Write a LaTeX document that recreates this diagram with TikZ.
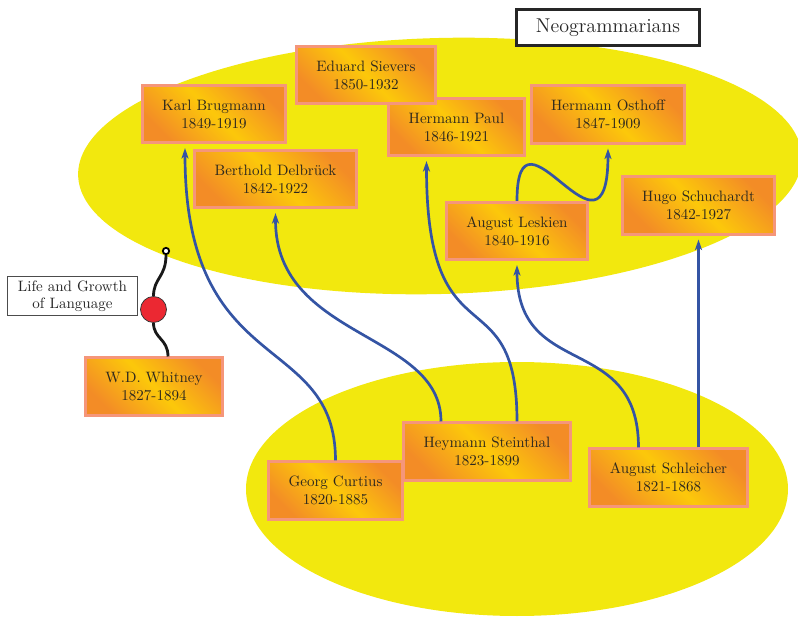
\documentclass[tikz,border=0pt]{standalone}
\usetikzlibrary{calc,arrows.meta,shadings}

\definecolor{fieldyellow}{RGB}{242,232,14}
\definecolor{boxorange}{RGB}{243,140,38}
\definecolor{boxyellow}{RGB}{252,200,10}
\definecolor{boxrim}{RGB}{245,150,122}
\definecolor{linkblue}{RGB}{52,84,164}
\definecolor{dotred}{RGB}{235,40,50}
\definecolor{inktext}{RGB}{45,40,30}

\begin{document}
\begin{tikzpicture}[
  x=0.025cm, y=-0.025cm,
  person/.style={draw=boxrim, line width=2pt,
    left color=boxorange, right color=boxorange, middle color=boxyellow,
    shading angle=-45,
    minimum height=40.7pt, inner sep=0pt, align=center,
    text=inktext, font=\fontsize{10.7}{12.8}\selectfont},
  titlebox/.style={draw=black!85, line width=2pt, fill=white,
    minimum width=130.3pt, minimum height=25.7pt, inner sep=0pt,
    font=\fontsize{14.2}{16}\selectfont, text=black!85},
  notebox/.style={draw=black!70, line width=0.6pt, fill=white,
    minimum width=92.5pt, minimum height=27.7pt, inner sep=0pt, align=center,
    font=\fontsize{10.7}{12.2}\selectfont, text=black!85},
  link/.style={draw=linkblue, line width=1.9pt,
    -{Stealth[length=7.5pt,width=5pt,inset=2pt]}},
  wire/.style={draw=black!90, line width=2pt},
]
\useasboundingbox (0,0) rectangle (798,617);

% the two yellow fields
\fill[fieldyellow, rotate around={1.5:(440,166)}] (440,166) ellipse [x radius=362, y radius=128];
\fill[fieldyellow] (517,489) ellipse [x radius=271, y radius=127];

% heading
\node[titlebox] (title) at (608,27.5) {Neogrammarians};

% scholars of the upper field
\node[person, minimum width=96.9pt]  (paul)    at (456.5,127)   {Hermann Paul\\1846-1921};
\node[person, minimum width=99.0pt]  (sievers) at (366,75)      {Eduard Sievers\\1850-1932};
\node[person, minimum width=101.9pt] (brug)    at (214,114)     {Karl Brugmann\\1849-1919};
\node[person, minimum width=109.0pt] (osthoff) at (608,114.5)   {Hermann Osthoff\\1847-1909};
\node[person, minimum width=115.4pt] (delb)    at (275.5,179)   {Berthold Delbrück\\1842-1922};
\node[person, minimum width=108.3pt] (schuch)  at (698.5,205.5) {Hugo Schuchardt\\1842-1927};
\node[person, minimum width=100.1pt] (leskien) at (517,231)     {August Leskien\\1840-1916};

% scholars of the lower field
\node[person, minimum width=118.9pt] (stein)   at (487,451.5)   {Heymann Steinthal\\1823-1899};
\node[person, minimum width=95.5pt]  (curt)    at (335.5,490.5) {Georg Curtius\\1820-1885};
\node[person, minimum width=112.5pt] (schl)    at (668.5,477.5) {August Schleicher\\1821-1868};

% Whitney and his book
\node[person, minimum width=97.6pt]  (whit)    at (154,386.5)   {W.D. Whitney\\1827-1894};
\node[circle, draw=black!80, line width=0.5pt, fill=dotred, minimum size=18.5pt, inner sep=0pt] (book) at (153.5,309.5) {};
\node[circle, draw=black, line width=1.3pt, fill=white, minimum size=4.5pt, inner sep=0pt] (end) at (166,251) {};
\node[notebox] (note) at (72.5,296) {Life and Growth\\of Language};

\draw[wire] ($(whit.north)+(14,0)$) .. controls ($(whit.north)+(14,-18)$) and ($(book.south)+(0,16)$) .. (book.south);
\draw[wire] (book.north) .. controls ($(book.north)+(0,-18)$) and ($(end.south)+(0,22)$) .. (end.south);

% lines of influence
\draw[link] (curt.north) .. controls ($(curt.north)+(0,-130)$) and ($(brug.south)+(-29,236)$) .. ($(brug.south)+(-29,4)$);
\draw[link] ($(stein.north)+(-46,0)$) .. controls ($(stein.north)+(-46,-90)$) and ($(delb.south)+(0,131)$) .. ($(delb.south)+(0,4)$);
\draw[link] ($(stein.north)+(30,0)$) .. controls ($(stein.north)+(30,-150)$) and ($(paul.south)+(-30,210)$) .. ($(paul.south)+(-30,4)$);
\draw[link] ($(schl.north)+(-30,0)$) .. controls ($(schl.north)+(-30,-116)$) and ($(leskien.south)+(0,120)$) .. ($(leskien.south)+(0,4)$);
\draw[link] ($(schl.north)+(30,0)$) -- ($(schuch.south)+(0,4)$);
\draw[link] (leskien.north) .. controls ($(leskien.north)+(0,-112)$) and ($(osthoff.south)+(0,137)$) .. ($(osthoff.south)+(0,4)$);
\end{tikzpicture}
\end{document}
